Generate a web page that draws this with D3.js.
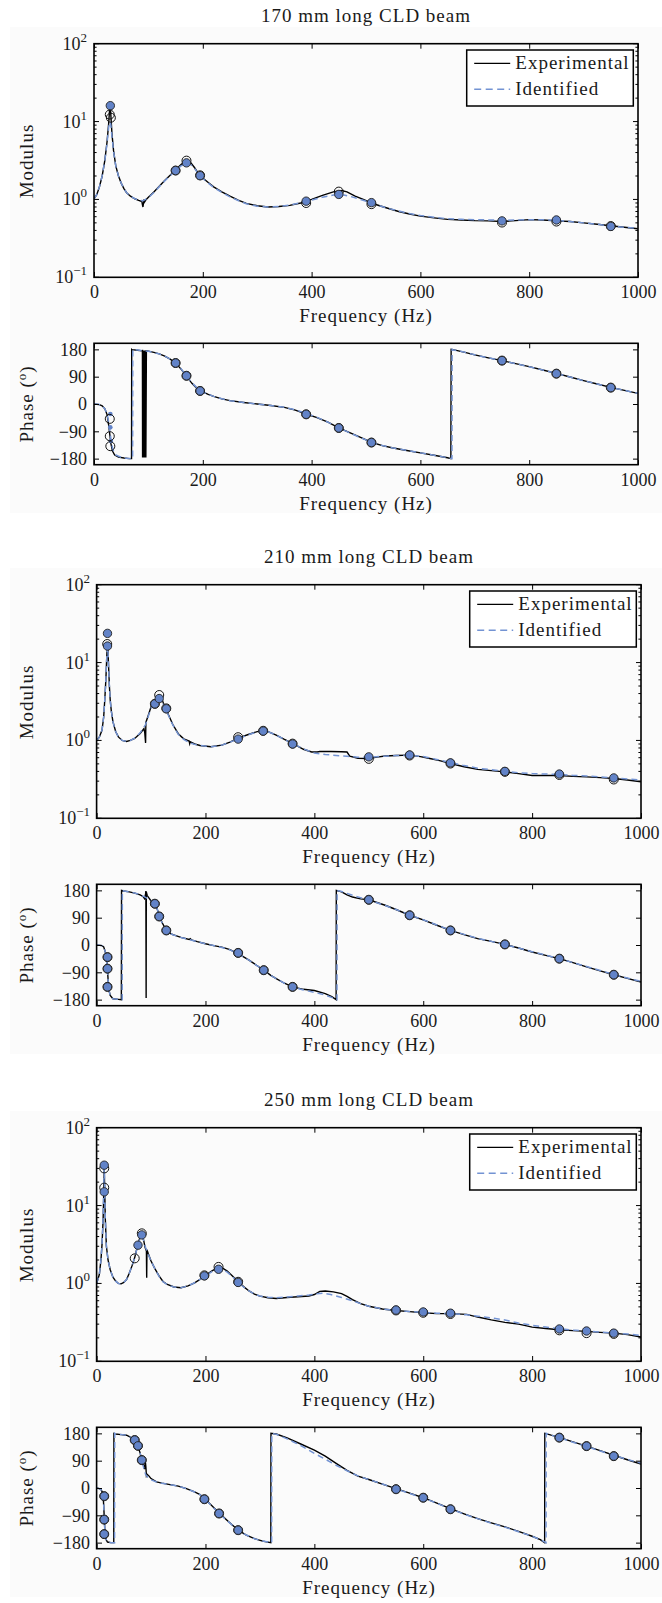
<!DOCTYPE html>
<html>
<head>
<meta charset="utf-8">
<script src="https://cdn.jsdelivr.net/npm/d3@7"></script>
<style>
  body { margin: 0; background: #fff; }
</style>
</head>
<body>
<div id="fig"></div>
<script>
// ---- data: [frequency Hz, value] ----
const titles = ["170 mm long CLD beam", "210 mm long CLD beam", "250 mm long CLD beam"];
const freqTicks = [0, 200, 400, 600, 800, 1000];
const phaseTicks = [-180, -90, 0, 90, 180];
const modDecades = [0.1, 1, 10, 100];
const legendLabels = ["Experimental", "Identified"];

// 170 mm
const mod1Exp = [[0,1.02],[5,1.15],[10,1.45],[15,2.0],[20,3.2],[24,5.5],[27,9.5],[29,15.5],[30,15.8],[31,12],[33,7],[36,4.2],[40,2.7],[45,2.0],[50,1.62],[55,1.38],[60,1.22],[67,1.1],[75,1.02],[82,0.97],[88,0.94],[89,0.86],[90,0.8],[91,0.9],[92,1.0],[93,0.93],[96,1.0],[100,1.07],[110,1.25],[120,1.48],[130,1.75],[140,2.05],[150,2.4],[160,2.8],[167,3.05],[172,3.15],[178,2.95],[185,2.55],[192,2.15],[200,1.88],[210,1.65],[220,1.45],[235,1.25],[250,1.1],[265,0.98],[280,0.89],[300,0.83],[320,0.8],[340,0.81],[360,0.84],[380,0.9],[400,1.0],[420,1.13],[440,1.25],[455,1.3],[465,1.25],[480,1.1],[495,1.0],[510,0.9],[525,0.83],[540,0.77],[560,0.7],[580,0.65],[600,0.61],[625,0.58],[650,0.555],[675,0.545],[700,0.535],[725,0.53],[750,0.52],[775,0.535],[800,0.55],[825,0.545],[850,0.53],[875,0.52],[900,0.5],[925,0.48],[950,0.46],[975,0.44],[1000,0.42]];
const mod1Id = [[0,1.02],[5,1.15],[10,1.45],[15,2.0],[20,3.2],[24,5.3],[27,8.5],[29,10],[30,9.8],[31,9],[33,6.5],[36,4.1],[40,2.7],[45,2.0],[50,1.62],[55,1.38],[60,1.22],[67,1.1],[75,1.02],[82,0.98],[90,0.96],[100,1.05],[110,1.23],[120,1.46],[130,1.73],[140,2.02],[150,2.35],[160,2.7],[170,2.9],[178,2.8],[185,2.5],[192,2.12],[200,1.86],[210,1.62],[220,1.43],[235,1.23],[250,1.08],[265,0.97],[280,0.88],[300,0.82],[320,0.8],[340,0.81],[360,0.85],[380,0.91],[400,0.98],[420,1.07],[440,1.14],[455,1.16],[470,1.1],[490,1.0],[510,0.9],[525,0.83],[540,0.77],[560,0.71],[580,0.66],[600,0.62],[625,0.59],[650,0.565],[675,0.555],[700,0.55],[725,0.545],[750,0.54],[775,0.545],[800,0.55],[825,0.55],[850,0.54],[875,0.52],[900,0.5],[925,0.48],[950,0.455],[975,0.44],[1000,0.425]];
const mod1Open = [[29,12.3],[31,11.2],[150,2.35],[170,3.15],[195,2.04],[390,0.9],[450,1.26],[510,0.87],[750,0.505],[850,0.52],[950,0.455]];
const mod1Fill = [[30,16],[150,2.35],[170,2.95],[195,2.02],[390,0.95],[450,1.16],[510,0.91],[750,0.53],[850,0.545],[950,0.45]];
const ph1Exp = [[0,0],[10,-2],[15,-6],[20,-16],[24,-35],[27,-70],[29,-100],[31,-130],[34,-155],[38,-168],[45,-175],[55,-178],[65,-180],[69,-180],[69.3,180],[70,179],[80,177],[88,175],[89,176],[89.3,-176],[90.3,176],[91.3,-176],[92.3,176],[93.3,-176],[94.3,176],[95.3,-176],[96.3,175],[100,174],[110,170],[120,165],[130,158],[140,148],[150,135],[160,115],[170,92],[180,68],[190,50],[200,40],[210,32],[220,25],[235,17],[250,11],[275,5],[300,0],[325,-5],[350,-11],[370,-20],[390,-33],[410,-45],[430,-60],[450,-79],[470,-94],[490,-110],[510,-126],[530,-137],[550,-145],[575,-153],[600,-161],[625,-169],[650,-177],[656,-180],[656.5,180],[660,179],[680,171],[700,162],[725,152],[750,143],[775,133],[800,123],[825,112],[850,101],[875,89],[900,77],[925,66],[950,55],[975,45],[1000,35]];
const ph1Id = [[0,0],[10,-2],[15,-6],[20,-16],[24,-33],[27,-60],[30,-100],[32,-128],[35,-152],[40,-168],[50,-176],[60,-179],[71,-180],[71.3,180],[80,178],[90,176],[100,174],[110,170],[120,165],[130,158],[140,148],[150,135],[160,116],[170,93],[180,70],[190,52],[200,40],[210,32],[220,25],[235,17],[250,11],[275,5],[300,0],[325,-5],[350,-11],[370,-19],[390,-31],[410,-44],[430,-60],[450,-79],[470,-95],[490,-111],[510,-126],[530,-137],[550,-145],[575,-153],[600,-161],[625,-169],[650,-177],[658,-180],[658.3,180],[660,179],[680,171],[700,162],[725,152],[750,143],[775,133],[800,123],[825,112],[850,101],[875,89],[900,77],[925,66],[950,55],[975,45],[1000,35]];
const ph1Open = [[29,-49],[29,-106],[30,-139],[150,135],[170,93],[195,43],[390,-34],[450,-79],[510,-127],[750,143],[850,100],[950,54]];
const ph1Fill = [[150,135],[170,93],[195,43],[390,-34],[450,-79],[510,-127],[750,143],[850,100],[950,54]];
const ph1Dots = [[30,-33],[30,-77],[31,-122]];

// 210 mm
const mod2Exp = [[0,1.0],[5,1.1],[10,1.36],[13,2.0],[15,3.3],[17,6],[18,9],[19,13.5],[20,17.5],[21,14],[22,9],[23.5,5],[25,3.3],[27,2.4],[30,1.74],[35,1.3],[40,1.11],[47,1.0],[55,0.97],[62,1.0],[70,1.06],[80,1.23],[85,1.36],[87,1.42],[88.5,1.25],[90,0.93],[90.5,1.7],[95,2.1],[100,2.7],[105,3.1],[110,3.55],[115,3.8],[120,3.4],[125,2.7],[130,2.3],[140,1.6],[150,1.22],[160,1.05],[170,0.98],[171,0.91],[172,0.96],[180,0.9],[190,0.86],[210,0.83],[230,0.87],[245,0.95],[260,1.07],[280,1.2],[295,1.3],[305,1.33],[315,1.3],[330,1.17],[345,1.03],[360,0.915],[380,0.77],[395,0.71],[405,0.71],[410,0.72],[430,0.72],[450,0.715],[460,0.71],[465,0.63],[480,0.59],[500,0.585],[515,0.61],[530,0.63],[550,0.64],[575,0.648],[595,0.62],[610,0.59],[630,0.55],[650,0.506],[675,0.46],[700,0.425],[725,0.41],[750,0.395],[775,0.375],[800,0.355],[825,0.355],[850,0.355],[875,0.345],[900,0.34],[925,0.333],[950,0.325],[975,0.31],[1000,0.295]];
const mod2Id = [[0,1.0],[5,1.1],[10,1.36],[13,2.0],[15,3.3],[17,6],[18,9],[19,13],[20,16],[21,13.5],[22,9],[23.5,5],[25,3.3],[27,2.4],[30,1.74],[35,1.3],[40,1.11],[47,1.0],[55,0.97],[62,1.0],[70,1.07],[80,1.25],[90,1.6],[95,2.05],[100,2.6],[105,3.0],[110,3.35],[115,3.45],[120,3.2],[125,2.65],[130,2.25],[140,1.58],[150,1.2],[160,1.03],[170,0.94],[180,0.89],[190,0.86],[210,0.83],[230,0.87],[245,0.95],[260,1.05],[280,1.19],[295,1.29],[305,1.32],[315,1.29],[330,1.17],[345,1.03],[360,0.91],[380,0.78],[400,0.69],[420,0.66],[440,0.64],[460,0.625],[480,0.61],[500,0.61],[525,0.625],[550,0.64],[575,0.645],[600,0.62],[625,0.57],[650,0.52],[675,0.475],[700,0.44],[725,0.42],[750,0.4],[775,0.385],[800,0.375],[825,0.37],[850,0.365],[875,0.355],[900,0.35],[925,0.34],[950,0.33],[975,0.32],[1000,0.31]];
const mod2Open = [[19.5,17.3],[107,2.95],[115,3.83],[128,2.58],[260,1.1],[306,1.33],[360,0.91],[500,0.58],[575,0.64],[650,0.505],[750,0.395],[850,0.36],[950,0.315]];
const mod2Fill = [[20,23.7],[20,16.3],[107,2.95],[115,3.45],[128,2.55],[260,1.04],[306,1.32],[360,0.9],[500,0.615],[575,0.65],[650,0.515],[750,0.4],[850,0.37],[950,0.33]];
const ph2Exp = [[0,0],[10,-2],[13,-6],[15,-17],[17,-30],[18,-40],[19,-60],[20,-83],[21,-110],[22,-138],[23.5,-155],[25,-166],[30,-177],[40,-179],[45.5,-180],[45.8,180],[50,178],[60,175],[70,171],[80,165],[85,160],[88,153],[90,168],[90.5,178],[91,-175],[91.3,175],[93,163],[100,145],[107,136],[111,120],[115,98],[120,75],[128,48],[135,38],[140,34],[155,25],[170,18],[172,21],[174,17],[185,11],[200,4],[215,-2],[230,-7],[245,-15],[260,-29],[270,-39],[280,-50],[293,-66],[307,-83],[320,-100],[330,-111],[345,-126],[360,-138],[380,-146],[400,-150],[420,-160],[432,-170],[440,-180],[440.3,180],[450,175],[460,165],[470,158],[485,152],[500,149],[515,140],[530,131],[550,117],[575,98],[600,83],[625,65],[650,48],[675,34],[700,21],[725,12],[750,2],[775,-10],[800,-23],[825,-34],[850,-45],[875,-58],[900,-72],[925,-85],[950,-98],[975,-110],[1000,-122]];
const ph2Id = [[0,0],[10,-2],[13,-6],[15,-17],[17,-30],[18,-42],[19,-62],[20,-85],[21,-112],[22,-138],[23.5,-155],[25,-166],[30,-177],[40,-179],[47,-180],[47.3,180],[50,178],[60,175],[70,171],[80,166],[90,157],[100,146],[107,136],[111,120],[115,98],[120,75],[128,48],[135,38],[140,34],[155,25],[170,18],[185,11],[200,4],[215,-2],[230,-8],[245,-16],[260,-29],[270,-39],[280,-50],[293,-66],[307,-83],[320,-100],[330,-111],[345,-126],[360,-138],[380,-148],[400,-156],[420,-165],[435,-175],[441.5,-180],[441.8,180],[450,176],[460,170],[475,161],[500,148],[515,139],[530,130],[550,117],[575,99],[600,83],[625,66],[650,49],[675,35],[700,22],[725,12],[750,1],[775,-10],[800,-22],[825,-33],[850,-45],[875,-58],[900,-71],[925,-84],[950,-97],[975,-109],[1000,-120]];
const ph2Pts = [[20,-40],[20,-78],[20,-138],[107,136],[115,94],[128,48],[260,-26],[307,-83],[360,-138],[500,149],[575,98],[650,48],[750,2],[850,-45],[950,-98]];

// 250 mm
const mod3Exp = [[0,1.0],[5,1.3],[8,2.0],[10,3.2],[12,6.7],[13,13],[14,30],[15,15],[16,6.7],[18,3.0],[21,2.0],[25,1.5],[30,1.2],[35,1.07],[40,1.0],[45,0.99],[50,1.03],[55,1.12],[60,1.35],[65,1.68],[70,2.15],[75,3.0],[80,4.0],[83,4.45],[86,3.7],[89,2.9],[91.5,2.6],[92,1.18],[92.5,2.7],[95,2.4],[100,1.94],[107,1.55],[115,1.24],[122,1.06],[130,0.97],[142,0.9],[155,0.88],[168,0.93],[180,1.02],[190,1.13],[200,1.27],[212,1.45],[225,1.63],[233,1.55],[240,1.44],[250,1.24],[260,1.05],[270,0.91],[280,0.8],[290,0.73],[300,0.686],[315,0.655],[330,0.64],[350,0.66],[370,0.675],[390,0.69],[400,0.72],[410,0.79],[420,0.8],[435,0.78],[450,0.74],[460,0.68],[470,0.62],[485,0.55],[500,0.51],[525,0.47],[550,0.45],[575,0.435],[600,0.42],[625,0.41],[650,0.41],[680,0.4],[700,0.37],[725,0.34],[750,0.316],[775,0.3],[790,0.285],[800,0.275],[825,0.264],[850,0.254],[875,0.248],[900,0.242],[925,0.235],[950,0.23],[975,0.22],[1000,0.205]];
const mod3Id = [[0,1.0],[5,1.3],[8,2.0],[10,3.2],[12,7],[13,14],[14,35],[15,15],[16,6.7],[18,3.0],[21,2.0],[25,1.5],[30,1.2],[35,1.07],[40,1.0],[45,0.99],[50,1.03],[55,1.12],[60,1.35],[65,1.68],[70,2.15],[75,2.95],[80,3.8],[83,4.1],[86,3.6],[90,2.9],[95,2.35],[100,1.94],[107,1.55],[115,1.22],[122,1.05],[130,0.96],[142,0.9],[155,0.88],[168,0.93],[180,1.02],[190,1.13],[200,1.25],[212,1.42],[225,1.53],[233,1.48],[240,1.4],[250,1.22],[260,1.03],[270,0.9],[280,0.8],[290,0.73],[300,0.69],[315,0.665],[330,0.655],[350,0.67],[370,0.69],[390,0.71],[400,0.73],[415,0.75],[430,0.72],[450,0.66],[470,0.6],[485,0.55],[500,0.51],[525,0.47],[550,0.45],[575,0.435],[600,0.425],[625,0.415],[650,0.41],[680,0.395],[700,0.38],[725,0.36],[750,0.34],[775,0.31],[800,0.29],[825,0.275],[850,0.262],[875,0.252],[900,0.245],[925,0.237],[950,0.23],[975,0.225],[1000,0.215]];
const mod3Open = [[14,30],[14,17],[70,2.1],[83,4.4],[198,1.27],[224,1.63],[260,1.05],[550,0.45],[600,0.42],[650,0.405],[850,0.25],[900,0.23],[950,0.225]];
const mod3Fill = [[14,33],[14,15],[76,3.1],[83,4.2],[198,1.25],[224,1.52],[260,1.03],[550,0.455],[600,0.43],[650,0.415],[850,0.26],[900,0.245],[950,0.23]];
const ph3Exp = [[0,0],[5,-2],[8,-5],[11,-15],[12,-29],[13,-55],[14,-95],[15,-135],[16,-161],[18,-172],[20,-178],[26,-180],[31.5,-180],[31.8,180],[35,178],[45,176],[55,174],[62,168],[66,162],[70,152],[73,146],[76,138],[80,115],[83,92],[86,75],[88,62],[89.5,88],[90.5,70],[91.5,40],[93,45],[96,40],[100,31],[110,20],[120,16],[135,11],[150,6],[165,-2],[180,-13],[190,-22],[198,-35],[210,-55],[225,-82],[240,-107],[260,-139],[275,-155],[290,-167],[305,-175],[320,-180],[320.3,180],[330,178],[350,165],[375,145],[400,125],[420,105],[440,81],[460,58],[480,39],[500,28],[525,13],[550,-2],[575,-17],[600,-32],[625,-50],[650,-68],[675,-85],[700,-101],[725,-115],[750,-128],[775,-143],[800,-159],[815,-170],[823,-180],[823.3,180],[835,174],[850,167],[875,152],[900,138],[925,123],[950,108],[975,93],[1000,79]];
const ph3Id = [[0,0],[5,-2],[8,-5],[11,-15],[12,-29],[13,-55],[14,-95],[15,-135],[16,-161],[18,-172],[20,-178],[26,-180],[33,-180],[33.3,180],[35,178],[45,176],[55,174],[62,168],[66,162],[70,153],[73,147],[76,138],[80,115],[83,92],[86,70],[90,45],[95,33],[100,27],[110,20],[120,16],[135,11],[150,6],[165,-2],[180,-13],[190,-22],[198,-36],[210,-56],[225,-84],[240,-108],[260,-139],[275,-155],[290,-167],[305,-175],[321.5,-180],[321.8,180],[330,177],[350,162],[375,140],[400,114],[420,95],[440,75],[460,57],[480,40],[500,28],[525,13],[550,-3],[575,-18],[600,-33],[625,-50],[650,-69],[675,-86],[700,-101],[725,-116],[750,-129],[775,-144],[800,-159],[815,-170],[825.5,-180],[825.8,180],[835,174],[850,166],[875,151],[900,137],[925,122],[950,108],[975,94],[1000,82]];
const ph3Pts = [[14,-27],[14,-104],[14,-152],[70,158],[76,139],[83,92],[198,-37],[225,-84],[260,-139],[550,-4],[600,-32],[650,-70],[850,166],[900,138],[950,105]];

// ---- layout ----
const width = 662, height = 1603;
const FONT = "Liberation Serif";
const ink = "#1a1a1a";
const blue = "#7393d3", markerBlue = "#6283c8";
const charts = [
  {dy: 0,    left: 94,   right: 638, mod: [mod1Exp, mod1Id, mod1Open, mod1Fill], ph: [ph1Exp, ph1Id, ph1Open, ph1Fill], dots: ph1Dots},
  {dy: 541,  left: 96.6, right: 641, mod: [mod2Exp, mod2Id, mod2Open, mod2Fill], ph: [ph2Exp, ph2Id, ph2Pts, ph2Pts], dots: []},
  {dy: 1084, left: 96.6, right: 641, mod: [mod3Exp, mod3Id, mod3Open, mod3Fill], ph: [ph3Exp, ph3Id, ph3Pts, ph3Pts], dots: []}
];
const mTop = 43.7, mBot = 277.3, pTop = 343.3, pBot = 464.7;

const svg = d3.select("#fig").append("svg")
  .attr("width", width)
  .attr("height", height);

// whole-pixel text positions keep the serif glyphs crisp
function label(g, txt, x, y, rot) {
  return g.append("text")
    .attr("transform", `translate(${Math.round(x)},${Math.round(y)})` + (rot ? " rotate(-90)" : ""))
    .attr("text-anchor", "middle")
    .attr("font-family", FONT)
    .attr("font-size", 19)
    .attr("letter-spacing", 1)
    .attr("fill", ink)
    .text(txt);
}

// one panel (modulus or phase): curves, markers, ticks, frame
function panel(g, id, x, y, top, bot, series, dots) {
  const [expD, idD, openD, fillD] = series;
  const left = x.range()[0], right = x.range()[1];
  g.append("clipPath").attr("id", id)
    .append("rect").attr("x", left).attr("y", top).attr("width", right - left).attr("height", bot - top);
  const plot = g.append("g").attr("clip-path", `url(#${id})`);
  const line = d3.line().x(d => x(d[0])).y(d => y(d[1]));

  plot.append("path").datum(expD).attr("d", line)
    .attr("fill", "none").attr("stroke", "#000").attr("stroke-width", 1.4);
  plot.append("path").datum(idD).attr("d", line)
    .attr("fill", "none").attr("stroke", blue).attr("stroke-width", 1.5).attr("stroke-dasharray", "6,4");

  plot.selectAll(".dot").data(dots).enter().append("circle")
    .attr("cx", d => x(d[0])).attr("cy", d => y(d[1])).attr("r", 2.3)
    .attr("fill", markerBlue);
  plot.selectAll(".open").data(openD).enter().append("circle")
    .attr("cx", d => x(d[0])).attr("cy", d => y(d[1])).attr("r", 4.5)
    .attr("fill", "none").attr("stroke", "#111").attr("stroke-width", 1);
  plot.selectAll(".fill").data(fillD).enter().append("circle")
    .attr("cx", d => x(d[0])).attr("cy", d => y(d[1])).attr("r", 4.2)
    .attr("fill", markerBlue).attr("stroke", "#222").attr("stroke-width", 0.9);

  // x ticks on both sides, labels below
  const xb = g.append("g").attr("transform", `translate(0,${Math.round(bot)})`)
    .call(d3.axisBottom(x).tickValues(freqTicks).tickSizeInner(-5).tickSizeOuter(0).tickPadding(8).tickFormat(d3.format("d")));
  const xt = g.append("g").attr("transform", `translate(0,${top})`)
    .call(d3.axisTop(x).tickValues(freqTicks).tickSizeInner(-5).tickSizeOuter(0).tickFormat(""));
  [xb, xt].forEach(a => {
    a.attr("font-family", FONT).attr("font-size", 18);
    a.select(".domain").remove();
    a.selectAll("text").attr("fill", ink);
    a.selectAll("line").attr("stroke", "#000");
  });

  g.append("rect").attr("x", left).attr("y", top).attr("width", right - left).attr("height", bot - top)
    .attr("fill", "none").attr("stroke", "#000").attr("stroke-width", 1.6);
  label(g, "Frequency (Hz)", (left + right) / 2, bot + 45, false);
}

charts.forEach((c, i) => {
  const g = svg.append("g").attr("transform", `translate(0,${c.dy})`);
  g.append("rect").attr("x", 10).attr("y", 27).attr("width", 652).attr("height", 486).attr("fill", "#fbfbfb");

  const x = d3.scaleLinear().domain([0, 1000]).range([c.left, c.right]);
  const cx = (c.left + c.right) / 2;

  // title
  label(g, titles[i], cx, 22, false);

  // ---- modulus (log scale) ----
  const y = d3.scaleLog().domain([0.1, 100]).range([mBot, mTop]);
  panel(g, "clipm" + i, x, y, mTop, mBot, c.mod, []);
  // log ticks (major + minor), inside, both sides
  y.ticks().forEach(v => {
    const major = Math.abs(Math.log10(v) - Math.round(Math.log10(v))) < 1e-9;
    const len = major ? 5 : 2.6;
    g.append("line").attr("x1", c.left).attr("x2", c.left + len).attr("y1", y(v)).attr("y2", y(v)).attr("stroke", "#000");
    g.append("line").attr("x1", c.right).attr("x2", c.right - len).attr("y1", y(v)).attr("y2", y(v)).attr("stroke", "#000");
  });
  modDecades.forEach(v => {
    const e = Math.round(Math.log10(v));
    const t = g.append("text").attr("x", Math.round(c.left - 6.7)).attr("y", Math.round(y(v) + 6))
      .attr("text-anchor", "end").attr("font-family", FONT).attr("font-size", 18).attr("fill", ink);
    t.append("tspan").text("10");
    t.append("tspan").attr("dy", -8).attr("font-size", 13).text(e < 0 ? "\u2212" + (-e) : e);
  });
  label(g, "Modulus", 33, (mTop + mBot) / 2, true);

  // legend
  const lw = 166.6, lh = 56;
  const lx = c.right - 4.7 - lw, ly = mTop + 6.3;
  const lg = g.append("g").attr("transform", `translate(${lx},${ly})`);
  lg.append("rect").attr("width", lw).attr("height", lh).attr("fill", "#fff").attr("stroke", "#000").attr("stroke-width", 1.5);
  legendLabels.forEach((name, k) => {
    const ry = k === 0 ? 13.3 : 39.3;
    lg.append("line").attr("x1", 7.5).attr("x2", 43.5).attr("y1", ry).attr("y2", ry)
      .attr("stroke", k === 0 ? "#000" : blue).attr("stroke-width", k === 0 ? 1.3 : 1.5)
      .attr("stroke-dasharray", k === 0 ? null : "7,4.5");
    lg.append("text").attr("x", 48.6).attr("y", ry + 5.5).attr("font-family", FONT)
      .attr("font-size", 19).attr("letter-spacing", 1).attr("fill", ink).text(name);
  });

  // ---- phase ----
  const yp = d3.scaleLinear().domain([-200, 200]).range([pBot, pTop]);
  panel(g, "clipp" + i, x, yp, pTop, pBot, c.ph, c.dots);
  const pl = g.append("g").attr("transform", `translate(${Math.round(c.left)},0)`)
    .call(d3.axisLeft(yp).tickValues(phaseTicks).tickSizeInner(-5).tickSizeOuter(0).tickPadding(7));
  const pr = g.append("g").attr("transform", `translate(${c.right},0)`)
    .call(d3.axisRight(yp).tickValues(phaseTicks).tickSizeInner(-5).tickSizeOuter(0).tickFormat(""));
  [pl, pr].forEach(a => {
    a.attr("font-family", FONT).attr("font-size", 18);
    a.select(".domain").remove();
    a.selectAll("text").attr("fill", ink);
    a.selectAll("line").attr("stroke", "#000");
  });
  const pt = g.append("text")
    .attr("transform", `translate(33,${Math.round((pTop + pBot) / 2)}) rotate(-90)`)
    .attr("text-anchor", "middle").attr("font-family", FONT)
    .attr("font-size", 19).attr("letter-spacing", 1).attr("fill", ink);
  pt.append("tspan").text("Phase (");
  pt.append("tspan").attr("dy", -7).attr("font-size", 13).text("o");
  pt.append("tspan").attr("dy", 7).text(")");
});
</script>
</body>
</html>
